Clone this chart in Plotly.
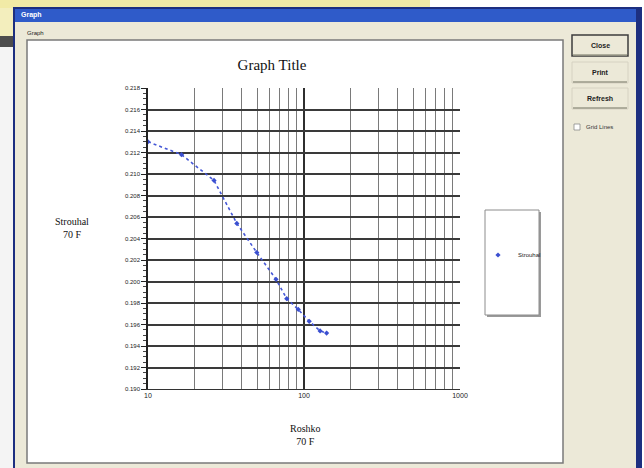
import plotly.graph_objects as go

# ---- data ----
roshko = [10.0, 16.4, 26.5, 37.1, 49.8, 66.2, 77.5, 91.9, 108.0, 126.8, 139.6]
strouhal = [0.2130, 0.2118, 0.2094, 0.2054, 0.2027, 0.2002, 0.1984, 0.1974, 0.1963, 0.1954, 0.1952]
series_name = "Strouhal"
x_major = [10, 100, 1000]
x_major_text = ["10", "100", "1000"]
x_minor = [20, 30, 40, 50, 60, 70, 80, 90, 200, 300, 400, 500, 600, 700, 800, 900]
y_ticks = [0.190, 0.192, 0.194, 0.196, 0.198, 0.200, 0.202, 0.204, 0.206, 0.208,
           0.210, 0.212, 0.214, 0.216, 0.218]
y_tick_text = ["%.3f" % v for v in y_ticks]

W, H = 644, 468
L, R, T, B = 148, 460, 88, 389


def px(x):
    return (x - L) / (R - L)


def py(y):
    return (B - y) / (B - T)


shapes = []


def rect(x0, y0, x1, y1, fill, line=None, lw=0):
    shapes.append(dict(type="rect", xref="paper", yref="paper", layer="below",
                       x0=px(x0), x1=px(x1), y0=py(y1), y1=py(y0),
                       fillcolor=fill, line=dict(color=line or fill, width=lw)))


def seg(x0, y0, x1, y1, color, lw=1):
    shapes.append(dict(type="line", xref="paper", yref="paper", layer="below",
                       x0=px(x0), x1=px(x1), y0=py(y0), y1=py(y1),
                       line=dict(color=color, width=lw)))


annotations = []


def text(x, y, s, size=7, color="#222", family="Liberation Sans", xanchor="center", bold=False):
    if bold:
        s = "<b>" + s + "</b>"
    annotations.append(dict(xref="paper", yref="paper", x=px(x), y=py(y), text=s,
                            showarrow=False, xanchor=xanchor, yanchor="middle",
                            font=dict(size=size, color=color, family=family)))


# background windows behind the dialog
rect(0, 0, W, H, "#ffffff")
rect(0, 0, 430, 8, "#f1eaa6")
rect(0, 8, 13, 36, "#f3eebd")
rect(0, 36, 13, 47, "#4d4d4d")
rect(0, 47, 13, H, "#f4f4f4")
# dialog frame
rect(13, 7, 642, H, "#1d2f80")
rect(15, 9, 636, H, "#ece9d8")
rect(15, 9, 636, 22, "#2f5bc9")
text(19, 15.5, "Graph", size=7, color="#ffffff", xanchor="left", bold=True)
text(25, 33, "Graph", size=6, color="#222", xanchor="left")
# white graph panel
rect(27, 40, 563, 463, "#ffffff", "#7a7a7a", 1.5)
# buttons
for (y0, y1, lab, deflt) in [(35, 56, "Close", True), (62, 83, "Print", False), (88, 109, "Refresh", False)]:
    rect(572, y0, 628, y1, "#ece9d8", "#3c3c3c" if deflt else "#d6d2c2", 1.5 if deflt else 1)
    seg(573, y1 - 1, 627, y1 - 1, "#9a9888", 1.5)
    text(600, (y0 + y1) / 2, lab, size=7, color="#222", bold=True)
rect(574, 124, 580, 130, "#ffffff", "#8a8a8a", 0.8)
text(584, 127, "Grid Lines", size=6, color="#333", xanchor="left")
# legend box
rect(487, 212, 541, 317, "#9a9a9a")
rect(485, 210, 539, 315, "#ffffff", "#8c8c8c", 1)

# titles
text(72, 228, "Strouhal<br>70 F", size=10, color="#111", family="Liberation Serif")
text(305, 435, "Roshko<br>70 F", size=10, color="#111", family="Liberation Serif")

fig = go.Figure()
fig.add_trace(go.Scatter(
    x=roshko, y=strouhal, name=series_name, mode="lines", showlegend=False,
    legendgroup="s", line=dict(color="#4557d6", width=1.6, dash="dot"),
))
fig.add_trace(go.Scatter(
    x=roshko, y=strouhal, name=series_name, mode="markers", legendgroup="s",
    marker=dict(color="#3a4fd0", size=4, symbol="diamond"),
))

fig.update_layout(
    width=W, height=H,
    margin=dict(l=L, r=W - R, t=T, b=H - B, pad=0),
    paper_bgcolor="#ffffff",
    plot_bgcolor="rgba(0,0,0,0)",
    title=dict(text="Graph Title", x=px(272), xref="paper", xanchor="center",
               y=1 - 65 / H, yref="container", yanchor="middle",
               font=dict(family="Liberation Serif", size=15, color="#111")),
    shapes=shapes,
    annotations=annotations,
    showlegend=True,
    legend=dict(x=px(478), y=py(255), xref="paper", yref="paper", xanchor="left", yanchor="middle",
                bgcolor="rgba(0,0,0,0)", borderwidth=0,
                font=dict(size=6, color="#222", family="Liberation Sans"),
                itemwidth=30),
    xaxis=dict(type="log", range=[1, 3], tickvals=x_major, ticktext=x_major_text,
               showgrid=True, gridcolor="#2f2f2f", gridwidth=1.6,
               ticks="", showline=True, linecolor="#333", linewidth=1, mirror=False,
               zeroline=False, tickfont=dict(size=7, color="#222", family="Liberation Sans"),
               minor=dict(tickvals=x_minor, showgrid=True, gridcolor="#7a7a7a", gridwidth=1, ticks="")),
    yaxis=dict(range=[y_ticks[0], y_ticks[-1]], tickvals=y_ticks, ticktext=y_tick_text,
               showgrid=True, gridcolor="#3a3a3a", gridwidth=1.5,
               ticks="outside", ticklen=5, tickcolor="#222", tickwidth=1,
               showline=True, linecolor="#222", linewidth=1.5, zeroline=False,
               tickfont=dict(size=6, color="#222", family="Liberation Sans"),
               minor=dict(dtick=0.0005, tick0=0.190, ticks="outside", ticklen=3,
                          tickcolor="#444", showgrid=False)),
)

fig.write_html("out.html", config={"displayModeBar": False},
               post_script="document.body.style.margin='0';")
